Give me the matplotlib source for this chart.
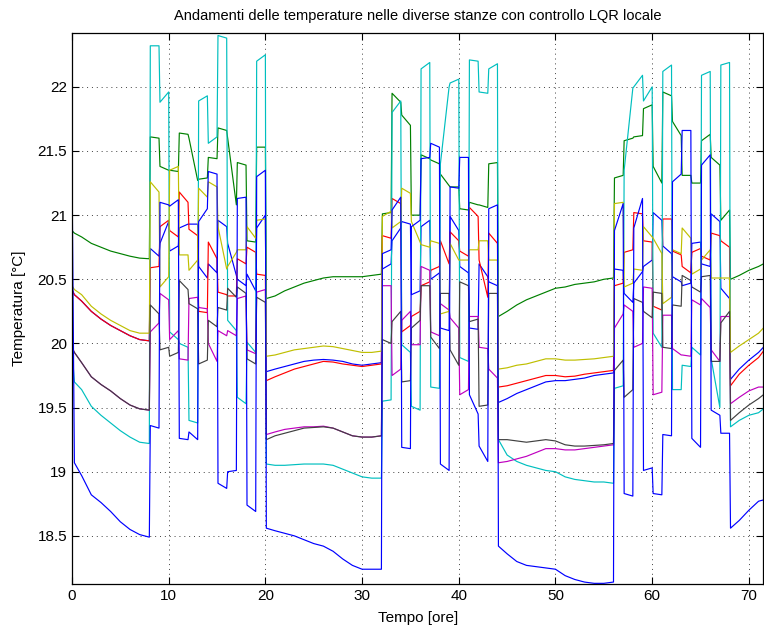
import numpy as np
import matplotlib
matplotlib.use("Agg")
import matplotlib.pyplot as plt

plt.rcParams["font.family"] = ["Liberation Sans", "DejaVu Sans"]
plt.rcParams["font.size"] = 11

# ore in cui la temperatura salta (accensione / spegnimento)
JUMP_HOURS = [0] + list(range(8, 21)) + list(range(32, 45)) + list(range(56, 69))
T_END = 71.5
DT = 0.1
DT0 = 0.25

# valori iniziali (t = 0)
t0 = {"b1": 20.42, "g": 20.88, "r": 20.42, "c": 19.95,
      "m": 19.97, "y": 20.45, "k": 19.97, "b2": 21.40}

# valore subito dopo il salto, per ogni ora in JUMP_HOURS
s_b1 = [20.38,
        20.74, 20.78, 20.72, 20.90, 20.93, 20.60, 20.62, 20.96, 20.78, 20.50, 20.54, 20.90, 19.78,
        20.58, 20.80, 20.95, 20.38, 20.91, 20.50, 20.12, 20.99, 20.60, 20.12, 20.62, 20.48, 19.54,
        20.58, 20.39, 20.47, 20.60, 21.02, 20.76, 20.52, 20.45, 20.78, 20.62, 21.01, 20.43, 19.72]
s_g = [20.86,
       21.61, 21.38, 21.35, 21.64, 21.60, 21.28, 21.45, 21.68, 21.60, 21.41, 20.80, 21.53, 20.35,
       21.01, 21.95, 21.78, 21.00, 21.47, 21.43, 21.32, 21.22, 21.05, 21.10, 21.08, 21.40, 20.21,
       21.29, 21.58, 21.61, 21.83, 21.38, 21.96, 21.73, 21.31, 21.25, 21.58, 21.45, 20.96, 20.50]
s_r = [20.38,
       20.59, 20.91, 20.88, 21.18, 20.89, 20.25, 20.79, 20.40, 20.37, 20.66, 20.75, 20.54, 19.71,
       20.84, 21.13, 20.09, 20.21, 20.45, 20.57, 20.80, 20.87, 20.72, 21.06, 20.65, 20.86, 19.66,
       20.45, 20.71, 21.02, 20.80, 20.29, 20.97, 20.72, 20.60, 20.71, 20.68, 20.86, 20.80, 19.67]
s_c = [19.70,
       22.32, 21.88, 20.09, 20.00, 19.40, 21.89, 21.56, 22.40, 20.18, 19.58, 20.01, 22.20, 19.06,
       19.55, 21.80, 19.99, 19.51, 22.14, 19.66, 21.40, 22.03, 19.89, 22.21, 21.96, 22.14, 19.25,
       19.65, 21.35, 22.00, 21.89, 20.08, 22.12, 19.64, 19.83, 19.97, 22.09, 19.88, 22.17, 19.35]
s_m = [19.93,
       20.09, 20.39, 20.03, 19.88, 20.35, 20.28, 20.00, 20.10, 20.10, 20.35, 19.95, 20.40, 19.29,
       20.45, 19.75, 20.18, 19.99, 20.60, 20.09, 20.31, 20.20, 19.60, 20.21, 19.97, 19.80, 19.07,
       20.12, 20.30, 19.97, 20.44, 19.60, 20.22, 19.96, 19.91, 20.34, 20.35, 19.95, 20.21, 19.53]
s_y = [20.42,
       21.26, 20.44, 21.35, 20.69, 20.57, 21.21, 21.26, 20.91, 20.60, 20.73, 20.91, 20.96, 19.90,
       20.99, 20.90, 21.21, 20.95, 20.77, 20.80, 20.23, 20.78, 20.65, 20.73, 20.80, 20.65, 19.80,
       21.09, 20.44, 20.58, 20.91, 20.82, 20.31, 20.73, 20.90, 20.54, 20.65, 20.51, 20.51, 19.93]
s_k = [19.93,
       20.30, 19.95, 19.90, 20.49, 20.31, 19.84, 20.18, 20.28, 20.43, 20.44, 19.88, 20.36, 19.25,
       20.03, 20.17, 19.70, 20.12, 20.45, 20.05, 20.39, 19.95, 20.48, 20.17, 19.51, 20.39, 19.25,
       19.79, 19.58, 20.35, 20.25, 20.40, 19.97, 20.30, 20.53, 20.44, 20.52, 19.86, 20.16, 19.40]
s_b2 = [19.07,
        19.36, 21.10, 21.07, 19.26, 19.31, 20.95, 21.34, 18.91, 19.00, 21.13, 18.74, 21.30, 18.56,
        20.70, 21.04, 19.19, 20.91, 21.44, 21.56, 19.06, 21.22, 21.45, 19.60, 19.20, 21.05, 18.42,
        20.88, 18.83, 20.90, 19.01, 18.83, 19.29, 21.26, 21.66, 19.26, 21.39, 19.48, 19.30, 18.56]

# valore a fine ora (ore 0..71)
e_b1 = [20.33, 20.25, 20.19, 20.14, 20.10, 20.06, 20.03, 20.02,
        20.68, 20.95, 20.76, 20.93, 20.93, 20.51, 20.55, 20.91, 20.53, 20.45, 20.41, 21.00,
        19.80, 19.82, 19.84, 19.86, 19.87, 19.875, 19.87, 19.86, 19.84, 19.83, 19.84, 19.85,
        20.62, 20.90, 20.93, 20.41, 20.96, 20.55, 20.10, 20.88, 20.55, 20.11, 20.52, 20.45,
        19.57, 19.61, 19.64, 19.67, 19.70, 19.71, 19.71, 19.72, 19.73, 19.75, 19.76, 19.77,
        20.57, 20.32, 20.56, 20.65, 20.96, 20.70, 20.48, 20.47, 20.79, 20.60, 20.95, 20.35,
        19.80, 19.87, 19.93, 19.97]
e_g = [20.83, 20.78, 20.75, 20.72, 20.70, 20.68, 20.665, 20.66,
       21.60, 21.35, 21.34, 21.63, 21.27, 21.29, 21.44, 21.66, 21.08, 21.39, 20.79, 21.53,
       20.37, 20.41, 20.44, 20.47, 20.49, 20.51, 20.52, 20.52, 20.52, 20.52, 20.53, 20.54,
       21.02, 21.88, 21.70, 21.00, 21.44, 21.40, 21.23, 21.22, 21.04, 21.08, 21.06, 21.41,
       20.25, 20.30, 20.34, 20.37, 20.40, 20.43, 20.44, 20.46, 20.47, 20.48, 20.50, 20.51,
       21.31, 21.60, 21.62, 21.86, 21.25, 21.93, 21.62, 21.31, 21.25, 21.63, 21.39, 21.04,
       20.53, 20.57, 20.60, 20.62]
e_r = [20.33, 20.25, 20.19, 20.14, 20.10, 20.06, 20.03, 20.02,
       20.60, 20.96, 20.83, 21.10, 20.84, 20.24, 20.66, 20.38, 20.37, 20.62, 20.71, 20.53,
       19.74, 19.77, 19.80, 19.82, 19.84, 19.86, 19.855, 19.84, 19.83, 19.82, 19.83, 19.84,
       20.82, 21.09, 20.14, 20.25, 20.48, 20.60, 20.62, 20.80, 20.68, 20.99, 20.36, 20.78,
       19.67, 19.69, 19.71, 19.73, 19.75, 19.75, 19.74, 19.745, 19.76, 19.77, 19.78, 19.79,
       20.47, 20.73, 21.01, 20.79, 20.26, 20.97, 20.69, 20.55, 20.74, 20.65, 20.84, 20.75,
       19.76, 19.83, 19.89, 19.94]
e_c = [19.64, 19.51, 19.44, 19.38, 19.32, 19.27, 19.23, 19.22,
       22.32, 21.96, 20.03, 19.97, 19.38, 21.93, 21.61, 22.38, 20.10, 19.53, 19.93, 22.25,
       19.05, 19.05, 19.055, 19.06, 19.06, 19.06, 19.05, 19.02, 18.99, 18.96, 18.95, 18.95,
       19.56, 21.89, 19.93, 19.48, 22.19, 19.65, 22.00, 22.06, 19.86, 22.20, 21.95, 22.18,
       19.13, 19.08, 19.05, 19.03, 19.01, 19.00, 18.96, 18.94, 18.93, 18.92, 18.92, 18.91,
       19.67, 21.99, 22.09, 22.00, 19.97, 22.17, 19.64, 19.82, 19.91, 22.12, 19.50, 22.19,
       19.40, 19.44, 19.46, 19.49]
e_m = [19.85, 19.74, 19.68, 19.63, 19.57, 19.52, 19.49, 19.48,
       20.16, 20.34, 20.10, 19.87, 20.36, 20.27, 19.86, 20.06, 20.06, 20.37, 19.92, 20.42,
       19.31, 19.33, 19.34, 19.35, 19.35, 19.355, 19.34, 19.31, 19.28, 19.27, 19.27, 19.28,
       20.45, 19.80, 20.25, 19.99, 20.57, 20.06, 20.26, 20.12, 19.64, 20.21, 19.96, 19.73,
       19.08, 19.10, 19.12, 19.15, 19.18, 19.18, 19.17, 19.17, 19.18, 19.19, 19.20, 19.21,
       20.23, 20.25, 20.00, 20.43, 19.62, 20.22, 19.91, 19.90, 20.30, 20.28, 19.86, 20.21,
       19.58, 19.63, 19.66, 19.66]
e_y = [20.38, 20.29, 20.23, 20.18, 20.14, 20.10, 20.08, 20.08,
       21.18, 20.52, 21.38, 20.69, 20.65, 21.14, 21.22, 20.58, 20.71, 20.73, 20.82, 20.97,
       19.91, 19.93, 19.95, 19.96, 19.97, 19.98, 19.975, 19.96, 19.945, 19.93, 19.93, 19.94,
       21.03, 20.95, 21.17, 20.79, 20.75, 20.78, 20.25, 20.65, 20.65, 20.73, 20.80, 20.65,
       19.81, 19.83, 19.84, 19.86, 19.88, 19.88, 19.87, 19.87, 19.875, 19.88, 19.89, 19.90,
       21.10, 20.47, 20.57, 20.83, 20.70, 20.36, 20.70, 20.82, 20.58, 20.73, 20.51, 20.51,
       19.98, 20.03, 20.08, 20.12]
e_k = [19.85, 19.74, 19.68, 19.63, 19.57, 19.52, 19.49, 19.48,
       20.23, 19.97, 19.93, 20.42, 20.27, 19.87, 20.13, 20.26, 20.36, 20.39, 19.84, 20.32,
       19.28, 19.30, 19.32, 19.34, 19.345, 19.35, 19.34, 19.31, 19.28, 19.27, 19.27, 19.28,
       20.00, 20.25, 19.71, 20.18, 20.45, 19.96, 20.39, 19.83, 20.45, 20.19, 19.52, 20.39,
       19.25, 19.24, 19.23, 19.24, 19.25, 19.24, 19.21, 19.20, 19.20, 19.205, 19.21, 19.22,
       19.87, 19.64, 20.32, 20.20, 20.39, 19.96, 20.29, 20.49, 20.40, 20.53, 19.86, 20.25,
       19.46, 19.52, 19.57, 19.60]
e_b2 = [18.97, 18.82, 18.76, 18.69, 18.61, 18.55, 18.51, 18.49,
        19.34, 21.08, 21.12, 19.25, 19.25, 21.05, 21.32, 18.87, 19.01, 21.14, 18.69, 21.35,
        18.54, 18.52, 18.50, 18.47, 18.44, 18.42, 18.38, 18.32, 18.27, 18.24, 18.24, 18.24,
        20.73, 21.14, 19.18, 20.96, 21.45, 21.53, 19.01, 21.21, 21.45, 19.45, 19.08, 21.08,
        18.36, 18.30, 18.27, 18.26, 18.25, 18.24, 18.19, 18.16, 18.14, 18.13, 18.13, 18.14,
        21.09, 18.81, 21.13, 19.03, 18.82, 19.28, 21.32, 21.66, 19.19, 21.47, 19.44, 19.30,
        18.62, 18.70, 18.77, 18.78]

series = [("b1", s_b1, e_b1, (0, 0, 1)),
          ("g", s_g, e_g, (0, 0.5, 0)),
          ("r", s_r, e_r, (1, 0, 0)),
          ("c", s_c, e_c, (0, 0.75, 0.75)),
          ("m", s_m, e_m, (0.75, 0, 0.75)),
          ("y", s_y, e_y, (0.75, 0.75, 0)),
          ("k", s_k, e_k, (0.25, 0.25, 0.25)),
          ("b2", s_b2, e_b2, (0, 0, 1))]


def build(v0, s, e):
    ts, vs = [0.0], [v0]
    for h in range(len(e)):
        if h in JUMP_HOURS:
            ts.append(h + (DT0 if h == 0 else DT))
            vs.append(s[JUMP_HOURS.index(h)])
        ts.append(min(h + 1, T_END))
        vs.append(e[h])
    return np.array(ts), np.array(vs)


fig = plt.figure(figsize=(7.64, 6.28), dpi=100)
ax = fig.add_axes([0.0942, 0.0701, 0.9050, 0.8774])

for name, s, e, col in series:
    t, v = build(t0[name], s, e)
    ax.plot(t, v, color=col, linewidth=0.85)

ax.set_xlim(0, T_END)
ax.set_ylim(18.125, 22.42)
ax.set_xticks([0, 10, 20, 30, 40, 50, 60, 70])
ax.set_yticks([18.5, 19, 19.5, 20, 20.5, 21, 21.5, 22])
ax.set_yticklabels(["18.5", "19", "19.5", "20", "20.5", "21", "21.5", "22"])
ax.tick_params(direction="in", top=True, right=True, length=5, labelsize=11)
ax.grid(True, color="0.25", linestyle=(0, (1, 4)), linewidth=0.7)
for sp in ax.spines.values():
    sp.set_linewidth(0.9)

ax.set_title("Andamenti delle temperature nelle diverse stanze con controllo LQR locale",
             fontsize=10.5, pad=9)
ax.set_xlabel("Tempo [ore]", fontsize=11, labelpad=6)
ax.set_ylabel("Temperatura [°C]", fontsize=11, labelpad=8)

fig.savefig("out.png", dpi=100)
